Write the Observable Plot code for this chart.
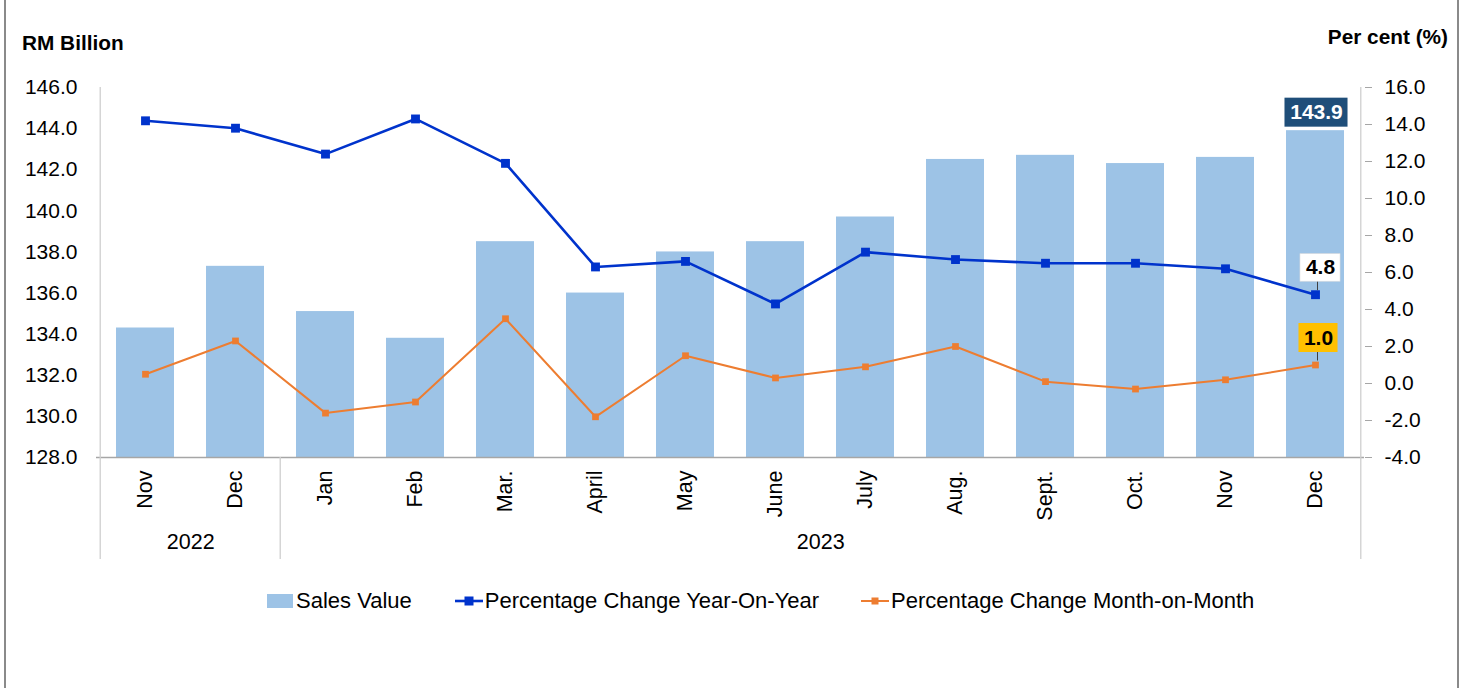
<!DOCTYPE html>
<html>
<head>
<meta charset="utf-8">
<script src="https://cdn.jsdelivr.net/npm/d3@7"></script>
<script src="https://cdn.jsdelivr.net/npm/@observablehq/plot@0.6"></script>
<style>
  html, body { margin: 0; padding: 0; background: #fff; }
  body { font-family: "Liberation Sans", Arial, sans-serif; color: #000; }
  #wrap { position: relative; width: 1468px; height: 688px; overflow: hidden; }
  #chart { position: absolute; left: 0; top: 0; }
  .border { position: absolute; top: 0; width: 2px; height: 688px; background: #8a8a8a; }
  .ttl { position: absolute; font-weight: bold; font-size: 20.8px; line-height: 23px; white-space: nowrap; }
  #legend { position: absolute; left: 267px; top: 589px; height: 24px; display: flex; align-items: center; font-size: 22px; line-height: 24px; white-space: nowrap; }
  #legend .item { display: flex; align-items: center; }
  #legend svg { display: block; }
</style>
</head>
<body>
<div id="wrap">
  <div id="chart"></div>
  <div class="border" style="left:4px"></div>
  <div class="border" style="left:1457px"></div>
  <div class="ttl" style="left:22px; top:31px">RM Billion</div>
  <div class="ttl" style="right:20px; top:25px">Per cent (%)</div>
  <div id="legend"></div>
</div>
<script>
// ---- Data ----
const months = ["Nov", "Dec", "Jan", "Feb", "Mar.", "April", "May", "June", "July", "Aug.", "Sept.", "Oct.", "Nov", "Dec"];
const years = ["2022", "2022", "2023", "2023", "2023", "2023", "2023", "2023", "2023", "2023", "2023", "2023", "2023", "2023"];
const salesValue = [134.3, 137.3, 135.1, 133.8, 138.5, 136.0, 138.0, 138.5, 139.7, 142.5, 142.7, 142.3, 142.6, 143.9];
const yoyChange = [14.2, 13.8, 12.4, 14.3, 11.9, 6.3, 6.6, 4.3, 7.1, 6.7, 6.5, 6.5, 6.2, 4.8];
const momChange = [0.5, 2.3, -1.6, -1.0, 3.5, -1.8, 1.5, 0.3, 0.9, 2.0, 0.1, -0.3, 0.2, 1.0];
const leftTicks = [128, 130, 132, 134, 136, 138, 140, 142, 144, 146];
const rightTicks = [-4, -2, 0, 2, 4, 6, 8, 10, 12, 14, 16];
const seriesNames = ["Sales Value", "Percentage Change Year-On-Year", "Percentage Change Month-on-Month"];

// ---- Layout ----
const W = 1468, H = 688;
const mL = 96, mR = 104, mT = 87, mB = 231;
const plotW = W - mL - mR, plotH = H - mT - mB;
const step = plotW / months.length;
const padInner = 0.36;
const bw = step * (1 - padInner);
const font = "'Liberation Sans', Arial, sans-serif";
const cBar = "#9DC3E6", cYoY = "#0033CC", cMoM = "#ED7D31";

const lMin = leftTicks[0], lMax = leftTicks[leftTicks.length - 1];
const rMin = rightTicks[0], rMax = rightTicks[rightTicks.length - 1];
const toLeft = v => lMin + (v - rMin) * (lMax - lMin) / (rMax - rMin);
const fromLeft = v => rMin + (v - lMin) * (rMax - rMin) / (lMax - lMin);

const data = months.map((m, i) => ({
  key: m + " " + years[i], month: m, year: years[i],
  sales: salesValue[i], yoy: yoyChange[i], mom: momChange[i]
}));
const keys = data.map(d => d.key);
const last = [data[data.length - 1]];

// year groups
const groups = [];
years.forEach((y, i) => {
  const g = groups[groups.length - 1];
  if (g && g.year === y) g.end = i; else groups.push({year: y, start: i, end: i});
});
groups.forEach(g => {
  const n = g.end - g.start + 1;
  g.centerKey = keys[g.start + Math.floor((n - 1) / 2)];
  g.dx = n % 2 === 0 ? step / 2 : 0;
  g.startKey = keys[g.start];
});

const sepBottom = -102;

const chart = Plot.plot({
  width: W, height: H,
  marginLeft: mL, marginRight: mR, marginTop: mT, marginBottom: mB,
  style: {fontFamily: font, fontSize: "21px", background: "transparent", color: "#000", overflow: "visible"},
  x: {type: "band", domain: keys, paddingInner: padInner, paddingOuter: padInner / 2, axis: null},
  y: {domain: [lMin, lMax], axis: null},
  marks: [
    // bars
    Plot.barY(data, {x: "key", y1: () => lMin, y2: "sales", fill: cBar}),
    // frame lines
    Plot.ruleY([lMin], {stroke: "#a6a6a6", strokeWidth: 1.3}),
    Plot.ruleX([keys[0]], {dx: -step / 2, insetBottom: sepBottom, stroke: "#cfcfcf", strokeWidth: 1.3}),
    Plot.ruleX([keys[keys.length - 1]], {dx: step / 2, insetBottom: sepBottom, stroke: "#cfcfcf", strokeWidth: 1.3}),
    Plot.ruleX(groups.slice(1), {x: "startKey", dx: -step / 2, insetTop: plotH, insetBottom: sepBottom, stroke: "#cfcfcf", strokeWidth: 1.3}),
    // axes
    Plot.axisY(leftTicks, {anchor: "left", tickSize: 0, tickPadding: 19, tickFormat: d => d.toFixed(1), fontSize: 21, fill: "#000", label: null}),
    Plot.axisY(rightTicks.map(toLeft), {anchor: "right", tickSize: 7, tickPadding: 13, stroke: "#a6a6a6", fill: "#000",
      tickFormat: v => (Math.round(fromLeft(v) * 10) / 10).toFixed(1), fontSize: 21, label: null}),
    // month labels
    Plot.text(data, {x: "key", text: "month", rotate: -90, textAnchor: "end", lineAnchor: "middle",
      frameAnchor: "bottom", dy: 13, fontSize: 21.5, fill: "#000"})
  ].concat(
    // year labels, one mark per group (constant dx)
    groups.map(g => Plot.text([g], {x: "centerKey", text: "year", dx: g.dx, frameAnchor: "bottom", dy: 91, fontSize: 21.5, fill: "#000"}))
  ).concat([
    // lines
    Plot.line(data, {x: "key", y: d => toLeft(d.mom), stroke: cMoM, strokeWidth: 2}),
    Plot.dot(data, {x: "key", y: d => toLeft(d.mom), symbol: "square", r: 3.8, fill: cMoM}),
    Plot.line(data, {x: "key", y: d => toLeft(d.yoy), stroke: cYoY, strokeWidth: 2.6}),
    Plot.dot(data, {x: "key", y: d => toLeft(d.yoy), symbol: "square", r: 5, fill: cYoY}),
    // data label: sales
    Plot.barY(last, {x: "key", y1: "sales", y2: "sales", insetTop: -32.5, insetBottom: 3.5,
      insetLeft: (bw - 63) / 2, insetRight: (bw - 63) / 2, dx: 1, fill: "#1F4E79"}),
    Plot.text(last, {x: "key", y: "sales", text: d => d.sales.toFixed(1), dx: 1, dy: -18, fill: "#fff", fontWeight: "bold", fontSize: 21}),
    // data label: yoy
    Plot.ruleX(last, {x: "key", y1: d => toLeft(d.yoy), y2: d => toLeft(d.yoy), insetTop: -13, insetBottom: 4, dx: 2, stroke: "#404040", strokeWidth: 1}),
    Plot.barY(last, {x: "key", y1: d => toLeft(d.yoy), y2: d => toLeft(d.yoy), insetTop: -40.5, insetBottom: 13,
      insetLeft: (bw - 40) / 2, insetRight: (bw - 40) / 2, dx: 5, fill: "#fff", stroke: "#e0e0e0", strokeWidth: 0.6}),
    Plot.text(last, {x: "key", y: d => toLeft(d.yoy), text: d => d.yoy.toFixed(1), dx: 5, dy: -27, fill: "#000", fontWeight: "bold", fontSize: 21}),
    // data label: mom
    Plot.ruleX(last, {x: "key", y1: d => toLeft(d.mom), y2: d => toLeft(d.mom), insetTop: -13, insetBottom: 4, dx: 2, stroke: "#404040", strokeWidth: 1}),
    Plot.barY(last, {x: "key", y1: d => toLeft(d.mom), y2: d => toLeft(d.mom), insetTop: -41.5, insetBottom: 12.5,
      insetLeft: (bw - 39) / 2, insetRight: (bw - 39) / 2, dx: 3, fill: "#FFC000"}),
    Plot.text(last, {x: "key", y: d => toLeft(d.mom), text: d => d.mom.toFixed(1), dx: 3, dy: -27, fill: "#000", fontWeight: "bold", fontSize: 21})
  ])
});
document.getElementById("chart").append(chart);

// ---- Legend ----
const legend = document.getElementById("legend");
const swatches = [
  `<svg width="26" height="14"><rect x="0" y="0" width="26" height="14" fill="${cBar}"/></svg>`,
  `<svg width="28" height="14"><line x1="0" y1="7" x2="28" y2="7" stroke="${cYoY}" stroke-width="2.6"/><rect x="9.5" y="2.5" width="9" height="9" fill="${cYoY}"/></svg>`,
  `<svg width="28" height="14"><line x1="0" y1="7" x2="28" y2="7" stroke="${cMoM}" stroke-width="2"/><rect x="10.5" y="3.5" width="7" height="7" fill="${cMoM}"/></svg>`
];
const gaps = [0, 43, 42];
seriesNames.forEach((name, i) => {
  const item = document.createElement("div");
  item.className = "item";
  item.style.marginLeft = gaps[i] + "px";
  item.innerHTML = swatches[i] + `<span style="margin-left:${i === 0 ? 3 : 2}px">${name}</span>`;
  legend.append(item);
});
</script>
</body>
</html>
